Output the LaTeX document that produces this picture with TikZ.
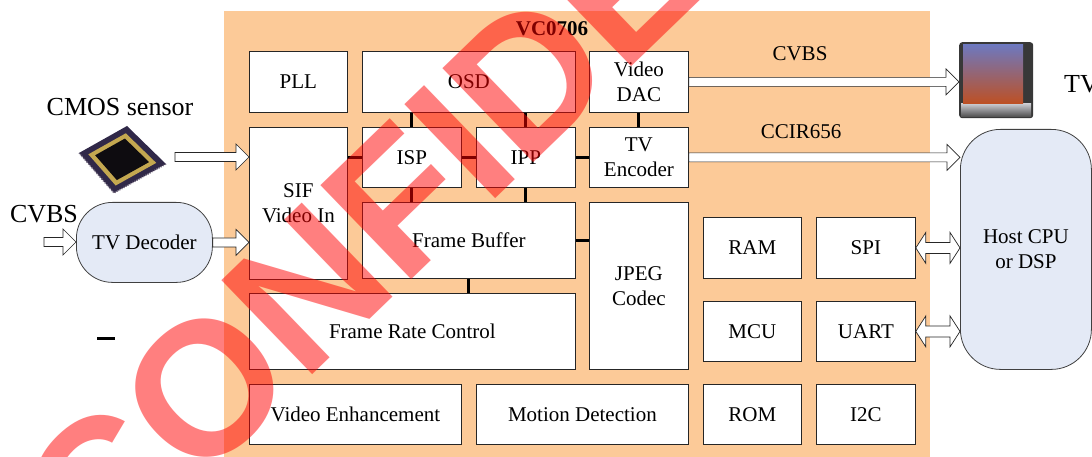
\documentclass[tikz,border=0pt]{standalone}
\usepackage{fontspec}
\setmainfont{Liberation Serif}
\newfontfamily\markfont{Liberation Sans}
\usetikzlibrary{calc}
\definecolor{chipbg}{RGB}{252,202,152}
\definecolor{hostbg}{RGB}{228,234,246}
\definecolor{sensorbody}{RGB}{48,40,72}
\definecolor{sensorpin}{RGB}{120,110,130}
\definecolor{sensorgold}{RGB}{196,168,80}
\definecolor{sensorcore}{RGB}{14,12,16}
\definecolor{tvsky}{RGB}{110,120,190}
\definecolor{tvhill}{RGB}{150,120,60}
\definecolor{tvflower}{RGB}{190,80,35}
\definecolor{tvbase}{RGB}{200,200,205}
\newcommand{\lbl}{\fontsize{21}{25}\selectfont}
\newcommand{\biglbl}{\fontsize{26}{29}\selectfont}
% hollow block arrows
\newcommand{\fatarrow}[2]{%
  \draw[fat] let \p1=(#1), \p2=(#2) in
    (\x1,\y1+4.5pt) -- (\x2-13pt,\y1+4.5pt) -- (\x2-13pt,\y1+13pt)
    -- (\x2,\y1) -- (\x2-13pt,\y1-13pt) -- (\x2-13pt,\y1-4.5pt)
    -- (\x1,\y1-4.5pt) -- cycle;}
\newcommand{\fatboth}[2]{%
  \draw[fat] let \p1=(#1), \p2=(#2) in
    (\x1,\y1) -- (\x1+10pt,\y1+15.5pt) -- (\x1+10pt,\y1+5.5pt)
    -- (\x2-10pt,\y1+5.5pt) -- (\x2-10pt,\y1+15.5pt) -- (\x2,\y1)
    -- (\x2-10pt,\y1-15.5pt) -- (\x2-10pt,\y1-5.5pt)
    -- (\x1+10pt,\y1-5.5pt) -- (\x1+10pt,\y1-15.5pt) -- cycle;}
\tikzset{
  blk/.style={draw=black!85, fill=white, line width=0.8pt, font=\lbl,
    align=center, anchor=north west, inner sep=0pt},
  bubble/.style={blk, draw=black!75, fill=hostbg},
  link/.style={line width=3pt, black},
  fat/.style={draw=black!85, fill=white, line width=0.7pt, line join=miter},
}
\begin{document}
\begin{tikzpicture}[x=1pt, y=-1pt]
    \useasboundingbox (0,0) rectangle (1092,457);
    \clip (0,0) rectangle (1092,457);
    \fill[chipbg] (224,11) rectangle (930,457);
    \node[font=\lbl\bfseries] (chipname) at (552,29) {VC0706};
    % blocks
    \node[blk, minimum width=98, minimum height=61] (pll) at (249,51) {PLL};
    \node[blk, minimum width=213, minimum height=61] (osd) at (362,51) {OSD};
    \node[blk, minimum width=99, minimum height=61] (dac) at (589,51) {Video\\DAC};
    \node[blk, minimum width=98, minimum height=152] (sif) at (249,127) {SIF\\Video In};
    \node[blk, minimum width=99, minimum height=60] (isp) at (362,127) {ISP};
    \node[blk, minimum width=99, minimum height=60] (ipp) at (476,127) {IPP};
    \node[blk, minimum width=99, minimum height=60] (tvenc) at (589,127) {TV\\Encoder};
    \node[blk, minimum width=213, minimum height=76] (fbuf) at (362,202) {Frame Buffer};
    \node[blk, minimum width=99, minimum height=167] (jpeg) at (589,202) {JPEG\\Codec};
    \node[blk, minimum width=326, minimum height=76] (frc) at (249,293) {Frame Rate Control};
    \node[blk, minimum width=212, minimum height=60] (venh) at (249,384) {Video Enhancement};
    \node[blk, minimum width=212, minimum height=60] (motion) at (476,384) {Motion Detection};
    \node[blk, minimum width=98, minimum height=61] (ram) at (703,217) {RAM};
    \node[blk, minimum width=99, minimum height=61] (spi) at (816,217) {SPI};
    \node[blk, minimum width=98, minimum height=60] (mcu) at (703,301) {MCU};
    \node[blk, minimum width=99, minimum height=60] (uart) at (816,301) {UART};
    \node[blk, minimum width=98, minimum height=60] (rom) at (703,384) {ROM};
    \node[blk, minimum width=99, minimum height=60] (iic) at (816,384) {I2C};
    % internal links
    \draw[link] (isp.north) -- (isp.north |- osd.south);
    \draw[link] (ipp.north) -- (ipp.north |- osd.south);
    \draw[link] (dac.south) -- (tvenc.north);
    \draw[link] (sif.east |- isp.west) -- (isp.west);
    \draw[link] (isp.east) -- (ipp.west);
    \draw[link] (ipp.east) -- (tvenc.west);
    \draw[link] (isp.south) -- (isp.south |- fbuf.north);
    \draw[link] (ipp.south) -- (ipp.south |- fbuf.north);
    \draw[link] (fbuf.east) -- (fbuf.east -| jpeg.west);
    \draw[link] (fbuf.south) -- (fbuf.south |- frc.north);
    % outside
    \node[bubble, rounded corners=36, minimum width=136, minimum height=80] (tvdec) at (76,202) {TV Decoder};
    \node[bubble, rounded corners=40, minimum width=131, minimum height=240] (host) at (960,129) {Host CPU\\or DSP};
    \node[font=\biglbl] (sensorlbl) at (120,107) {CMOS sensor};
    \node[font=\biglbl] (cvbsin) at (44,214) {CVBS};
    \node[font=\lbl] (cvbsout) at (800,54) {CVBS};
    \node[font=\lbl] (ccir) at (801,132) {CCIR656};
    \node[font=\biglbl, anchor=west, inner sep=0] (tvlbl) at (1064,84) {TV};
    \node[inner sep=0] (dash) at (106,338) {\rule{18pt}{3pt}};
    % sensor chip
    \begin{scope}[shift={(121.5,159)}]
      \fill[sensorbody] (5.5,-33) -- (44.5,5) -- (-7.5,34) -- (-42.5,-6) -- cycle;
      \draw[sensorpin, line width=1.5pt, dash pattern=on 1pt off 1.5pt] (44.5,5) -- (-7.5,34) -- (-42.5,-6);
      \fill[sensorgold, scale=0.78] (5.5,-33) -- (44.5,5) -- (-7.5,34) -- (-42.5,-6) -- cycle;
      \fill[sensorcore, scale=0.62] (5.5,-33) -- (44.5,5) -- (-7.5,34) -- (-42.5,-6) -- cycle;
    \end{scope}
    \coordinate (sensorout) at (175,157);
    \coordinate (cvbsfeed) at (44,242);
    % tv set
    \node[fill=black!78, rounded corners=3, minimum width=74, minimum height=76, anchor=north west, inner sep=0] (tvset) at (959,42) {};
    \shade[top color=tvbase, bottom color=black!70] (961,104) rectangle (1031,117);
    \shade[top color=tvsky, middle color=tvhill, bottom color=tvflower] (963,45) rectangle (1023,104);
    % arrows
    \fatarrow{sensorout}{sensorout -| sif.west}
    \fatarrow{cvbsfeed}{tvdec.west}
    \fatarrow{tvdec.east}{tvdec.east -| sif.west}
    \fatarrow{dac.east}{dac.east -| tvset.west}
    \fatarrow{tvenc.east}{tvenc.east -| host.west}
    \fatboth{spi.east}{spi.east -| host.west}
    \fatboth{uart.east}{uart.east -| host.west}
    % stamp
    \node[rotate=44, anchor=base west, inner sep=0, text=red, text opacity=0.5,
      font={\markfont\bfseries\fontsize{190}{190}\selectfont}] (stamp) at (98.7,581.9) {CONFIDENTIAL};
\end{tikzpicture}
\end{document}
